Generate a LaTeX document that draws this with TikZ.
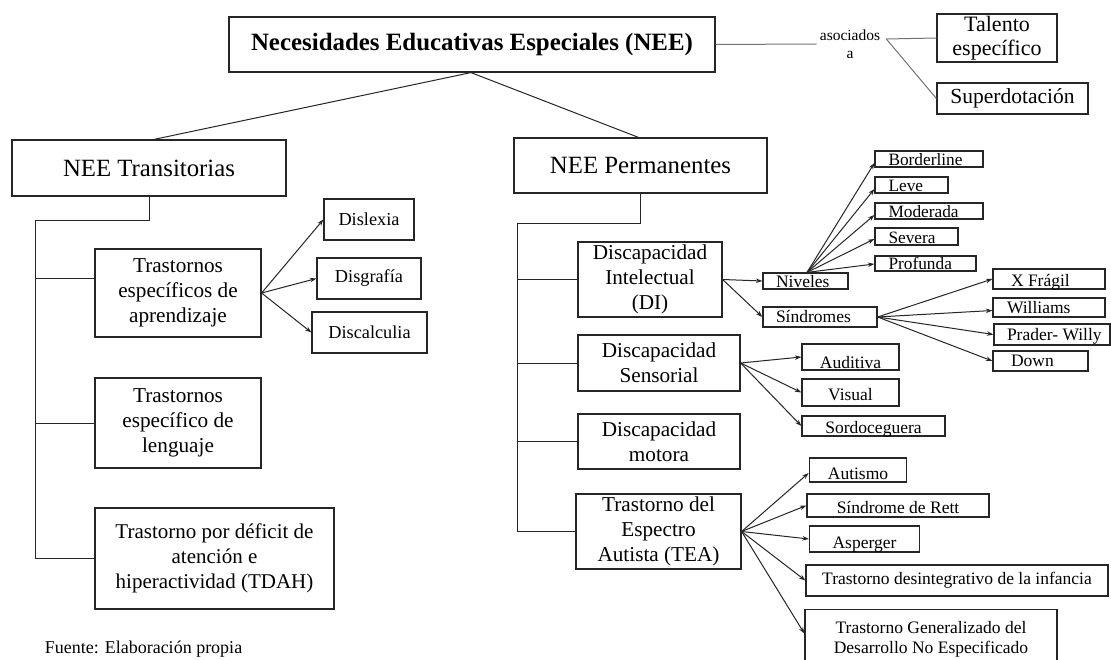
\documentclass[tikz,border=0pt]{standalone}
\usepackage{fontspec}
\setmainfont{Liberation Serif}
\usetikzlibrary{arrows.meta}
\definecolor{boxc}{gray}{0.15}
\definecolor{linec}{gray}{0.15}
\definecolor{grayc}{gray}{0.45}
\newcommand\setfs[2]{\fontsize{#1}{#2}\selectfont}
\begin{document}
\begin{tikzpicture}[x=1pt,y=-1pt,
  bx/.style={draw=boxc, line width=1.2pt, inner sep=0pt, align=center},
  lbx/.style={draw=boxc, line width=1.2pt, inner sep=0pt},
  ln/.style={draw=linec, line width=1pt},
  ar/.style={draw=linec, line width=1pt, -{Stealth[length=6.5pt,width=4.5pt]}},
  gl/.style={draw=grayc, line width=1pt},
  fa/.style={font=\setfs{17.3}{20}},
  fb/.style={font=\setfs{17.5}{20}},
  fc/.style={font=\setfs{21.2}{25}}]
\useasboundingbox (0,0) rectangle (1111,660);
\clip (0,0) rectangle (1111,660);
\fill[white] (0,0) rectangle (1111,660);

% top
\node[bx, font=\setfs{24.9}{28}\bfseries, minimum width=486, minimum height=55] (main) at (472,44.5) {Necesidades Educativas Especiales (NEE)};
\node[inner sep=3pt, align=center, font=\setfs{15.5}{18}] (aso) at (850,44) {asociados\\a};
\node[bx, font=\setfs{22}{24}, minimum width=120, minimum height=48] (tal) at (997,38) {Talento\\específico};
\node[bx, font=\setfs{21.5}{25}, minimum width=151, minimum height=31] (sup) at (1012.5,98.5) {Superdotación};
\coordinate (asoR) at ([xshift=3pt,yshift=5pt]aso.east);
\draw[gl] (main.east) -- (aso.west);
\draw[gl] (asoR) -- (tal.west);
\draw[gl] (asoR) -- (sup.west);

\node[bx, font=\setfs{24.8}{28}, minimum width=274, minimum height=56] (trans) at (149,168) {NEE Transitorias};
\node[bx, font=\setfs{24.8}{28}, minimum width=253, minimum height=55] (perm) at (640.5,165.5) {NEE Permanentes};
\draw[ln] ([xshift=-1pt]main.south) -- ([xshift=5pt]trans.north);
\draw[ln] ([xshift=-1pt]main.south) -- ([xshift=-2pt]perm.north);

% left tree
\node[bx, fc, minimum width=166, minimum height=88] (tea1) at (178,293) {Trastornos\\específicos de\\aprendizaje};
\node[bx, fc, minimum width=166, minimum height=90] (leng) at (178,423) {Trastornos\\específico de\\lenguaje};
\node[bx, font=\setfs{21}{25}, minimum width=239, minimum height=101] (tdah) at (214.5,558.5) {Trastorno por déficit de\\atención e\\hiperactividad (TDAH)};
\node[bx, font=\setfs{18.3}{21}, minimum width=90, minimum height=41] (dis1) at (369,219.5) {Dislexia};
\node[bx, font=\setfs{18.3}{21}, minimum width=104, minimum height=41] (dis2) at (369,278.5) {Disgrafía};
\node[bx, font=\setfs{18.3}{21}, minimum width=115, minimum height=41] (dis3) at (369.5,332.5) {Discalculia};

\coordinate (lt) at (35,221);
\coordinate (t1b) at ([yshift=14pt]tea1.west);
\draw[ln] (trans.south) |- (lt) -- (lt |- tdah.west) -- (tdah.west);
\draw[ln] (lt |- t1b) -- (t1b);
\draw[ln] (lt |- leng.west) -- (leng.west);
\draw[ar] (tea1.east) -- (dis1.west);
\draw[ar] (tea1.east) -- (dis2.west);
\draw[ar] (tea1.east) -- (dis3.west);

\node[font=\setfs{18}{21}, inner sep=0pt] (fuente) at (143.5,649) {Fuente: Elaboración propia};

% right tree
\node[bx, fc, minimum width=144, minimum height=75] (di) at (650,279.5) {Discapacidad\\Intelectual\\(DI)};
\node[bx, fc, minimum width=162, minimum height=56] (sens) at (659,363) {Discapacidad\\Sensorial};
\node[bx, fc, minimum width=162, minimum height=55] (mot) at (659,441.5) {Discapacidad\\motora};
\node[bx, fc, minimum width=165, minimum height=75] (tea2) at (658.5,531.5) {Trastorno del\\Espectro\\Autista (TEA)};

\coordinate (rt) at (517,224);
\draw[ln] (perm.south) |- (rt) -- (rt |- tea2.west) -- (tea2.west);
\draw[ln] (rt |- di.west) -- (di.west);
\draw[ln] (rt |- sens.west) -- (sens.west);
\draw[ln] (rt |- mot.west) -- (mot.west);

% DI children
\node[lbx, fb, text height=15pt, text depth=1pt] (niv) at (805.5,281) {\makebox[85pt][l]{\hspace{13pt}Niveles}};
\node[lbx, fb, text height=16pt, text depth=4pt] (sin) at (820,317) {\makebox[114pt][l]{\hspace{13pt}Síndromes}};
\draw[ar] (di.east) -- (niv.west);
\draw[ar] (di.east) -- (sin.west);

\node[lbx, fa, text height=15pt, text depth=1pt] (bord) at (929,159) {\makebox[108pt][l]{\hspace{13.5pt}Borderline}};
\node[lbx, fa, text height=15pt, text depth=1pt] (leve) at (911.5,185) {\makebox[73pt][l]{\hspace{13.5pt}Leve}};
\node[lbx, fa, text height=15pt, text depth=1pt] (mod) at (929,211) {\makebox[108pt][l]{\hspace{13.5pt}Moderada}};
\node[lbx, fa, text height=16pt, text depth=1pt] (sev) at (916.5,236.5) {\makebox[83pt][l]{\hspace{13.5pt}Severa}};
\node[lbx, fa, text height=14pt, text depth=1pt] (prof) at (925.5,263.5) {\makebox[101pt][l]{\hspace{13.5pt}Profunda}};
\draw[ar] ([xshift=1.5pt]niv.north) -- ([yshift=-4pt]bord.west);
\draw[ar] ([xshift=1.5pt]niv.north) -- ([yshift=-4pt]leve.west);
\draw[ar] ([xshift=1.5pt]niv.north) -- ([yshift=-4pt]mod.west);
\draw[ar] ([xshift=1.5pt]niv.north) -- ([yshift=-2.5pt]sev.west);
\draw[ar] ([xshift=1.5pt]niv.north) -- ([yshift=-0.5pt]prof.west);

\node[lbx, fb, text height=17.7pt, text depth=2.3pt] (xf) at (1049,279) {\makebox[112pt][l]{\hspace{18pt}X Frágil}};
\node[lbx, fb, text height=15pt, text depth=4pt] (wil) at (1049,307.5) {\makebox[112pt][l]{\hspace{14pt}Williams}};
\node[lbx, fb, text height=16pt, text depth=5pt] (pra) at (1052,334.5) {\makebox[116pt][l]{\hspace{13pt}Prader- Willy}};
\node[lbx, fb, text height=15.7pt, text depth=4.3pt] (down) at (1040.5,361) {\makebox[95pt][l]{\hspace{18pt}Down}};
\draw[ar] (sin.east) -- (xf.west);
\draw[ar] (sin.east) -- ([yshift=-3pt]wil.west);
\draw[ar] (sin.east) -- (pra.west);
\draw[ar] (sin.east) -- (down.west);

% Sensorial children
\node[bx, fb, minimum width=97, text height=24pt, text depth=2pt] (aud) at (850.5,357) {Auditiva};
\node[bx, fb, minimum width=97, text height=21pt, text depth=6pt] (vis) at (850.5,392.5) {Visual};
\node[bx, fb, minimum width=143, text height=17pt, text depth=3pt] (sord) at (873.5,426) {Sordoceguera};
\draw[ar] (sens.east) -- (aud.west);
\draw[ar] (sens.east) -- (vis.west);
\draw[ar] (sens.east) -- (sord.west);

% TEA children
\node[bx, fb, minimum width=97.5, text height=21pt, text depth=3pt] (aut) at (858,470) {Autismo};
\node[bx, fb, minimum width=182, text height=19pt, text depth=4pt] (rett) at (898,505.5) {Síndrome de Rett};
\node[bx, fb, minimum width=110, text height=22pt, text depth=4pt] (asp) at (864.5,539) {Asperger};
\node[bx, fb, minimum width=302, minimum height=31] (des) at (957,580.5) {Trastorno desintegrativo de la infancia};
\node[bx, fb, minimum width=252, minimum height=60, anchor=north] (tgd) at (931,609) {Trastorno Generalizado del\\Desarrollo No Especificado};
\draw[ar] (tea2.east) -- ([yshift=-3pt]aut.west);
\draw[ar] (tea2.east) -- (rett.west);
\draw[ar] (tea2.east) -- (asp.west);
\draw[ar] (tea2.east) -- (des.west);
\draw[ar] (tea2.east) -- ([yshift=6pt]tgd.west);
\end{tikzpicture}
\end{document}
